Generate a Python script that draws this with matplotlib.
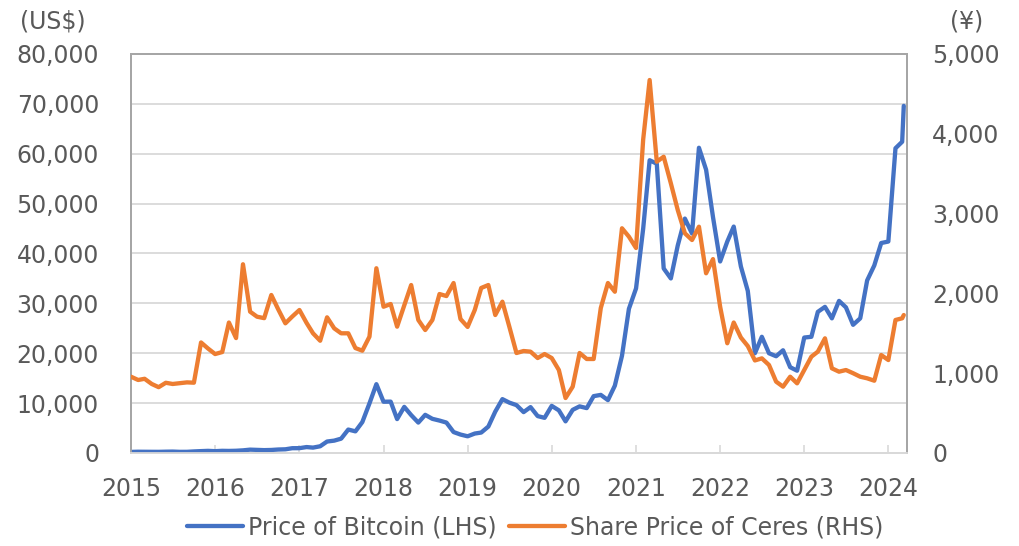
import numpy as np
import pandas as pd
import matplotlib
matplotlib.use("Agg")
import matplotlib.pyplot as plt
import matplotlib.dates as mdates
from matplotlib.ticker import FuncFormatter, MultipleLocator

# month-start dates Jan 2015 .. Mar 2024, plus one extra early-March 2024 point
dates = list(pd.date_range("2015-01-01", "2024-03-01", freq="MS")) + [pd.Timestamp("2024-03-08")]

# Price of Bitcoin (US$, left axis)
btc = [
    # 2015
    218, 254, 244, 236, 230, 263, 284, 230, 236, 314, 377, 430,
    # 2016
    368, 437, 416, 448, 531, 673, 624, 575, 609, 700, 742, 963,
    # 2017
    970, 1190, 1080, 1350, 2300, 2480, 2875, 4700, 4340, 6200, 9950, 13800,
    # 2018
    10280, 10300, 6800, 9250, 7600, 6100, 7650, 6850, 6500, 6100, 4200, 3700,
    # 2019
    3350, 3900, 4100, 5300, 8300, 10800, 10100, 9600, 8200, 9200, 7400, 7050,
    # 2020
    9450, 8550, 6350, 8650, 9350, 9000, 11400, 11650, 10600, 13500, 19500, 28900,
    # 2021
    33000, 45000, 58700, 58000, 37000, 35000, 41600, 47000, 44000, 61200, 56800, 47300,
    # 2022
    38400, 42400, 45400, 37400, 32500, 20000, 23300, 20000, 19400, 20600, 17200, 16500,
    # 2023
    23150, 23300, 28300, 29300, 27000, 30500, 29200, 25700, 27000, 34600, 37600, 42100,
    # 2024
    42400, 61100, 62400, 69600,
]

# Share Price of Ceres (yen, right axis)
ceres = [
    # 2015
    956, 915, 930, 865, 825, 880, 865, 875, 885, 881, 1385, 1310,
    # 2016
    1240, 1265, 1635, 1440, 2365, 1771, 1708, 1690, 1980, 1800, 1625, 1710,
    # 2017
    1792, 1630, 1500, 1407, 1700, 1562, 1500, 1500, 1315, 1282, 1458, 2315,
    # 2018
    1833, 1867, 1583, 1850, 2105, 1667, 1541, 1667, 1992, 1967, 2130, 1679,
    # 2019
    1580, 1792, 2068, 2105, 1729, 1896, 1583, 1253, 1278, 1270, 1190, 1240,
    # 2020
    1190, 1040, 689, 831, 1253, 1178, 1178, 1817, 2130, 2021, 2816, 2711,
    # 2021
    2569, 3930, 4674, 3650, 3713, 3380, 3045, 2753, 2669, 2836, 2252, 2430,
    # 2022
    1833, 1375, 1635, 1447, 1340, 1160, 1186, 1103, 894, 831, 956, 873,
    # 2023
    1040, 1207, 1270, 1437, 1061, 1019, 1040, 1000, 956, 936, 906, 1228,
    # 2024
    1165, 1667, 1688, 1729,
]

blue = "#4472C4"
orange = "#ED7D31"
text_color = "#595959"
grid_color = "#D9D9D9"
frame_color = "#A6A6A6"
fs = 17

plt.rcParams["font.family"] = ["DejaVu Sans"]

fig = plt.figure(figsize=(10.19, 5.46), dpi=100)
ax = fig.add_axes([131 / 1019, 1 - 453 / 546, (907 - 131) / 1019, (453 - 54) / 546])
ax2 = ax.twinx()

l1, = ax.plot(dates, btc, color=blue, lw=3.1, solid_joinstyle="round",
              solid_capstyle="round", label="Price of Bitcoin (LHS)", zorder=3)
l2, = ax2.plot(dates, ceres, color=orange, lw=3.1, solid_joinstyle="round",
               solid_capstyle="round", label="Share Price of Ceres (RHS)", zorder=3)

ax.set_ylim(0, 80000)
ax2.set_ylim(0, 5000)
ax.set_xlim(pd.Timestamp("2015-01-01"), pd.Timestamp("2024-03-22"))

ax.yaxis.set_major_locator(MultipleLocator(10000))
ax2.yaxis.set_major_locator(MultipleLocator(1000))
comma = FuncFormatter(lambda v, p: f"{int(v):,}")
ax.yaxis.set_major_formatter(comma)
ax2.yaxis.set_major_formatter(comma)

ax.xaxis.set_major_locator(mdates.YearLocator())
ax.xaxis.set_major_formatter(mdates.DateFormatter("%Y"))

ax.grid(axis="y", color=grid_color, lw=1.3)
ax.set_axisbelow(True)

ax.tick_params(axis="y", length=0, pad=23, labelsize=fs, labelcolor=text_color)
ax2.tick_params(axis="y", length=0, pad=18, labelsize=fs, labelcolor=text_color)
ax.tick_params(axis="x", direction="in", length=6, width=1.2, color=grid_color,
               pad=17, labelsize=fs, labelcolor=text_color)

for a in (ax, ax2):
    for side in ("left", "top", "right"):
        a.spines[side].set_color(frame_color)
        a.spines[side].set_linewidth(1.3)
    a.spines["bottom"].set_color(grid_color)
    a.spines["bottom"].set_linewidth(1.3)

fig.text(53 / 1019, 1 - 22 / 546, "(US$)", ha="center", va="center",
         fontsize=fs, color=text_color)
fig.text(967 / 1019, 1 - 22 / 546, "(¥)", ha="center", va="center",
         fontsize=fs, color=text_color)

fig.legend(handles=[l1, l2], loc="center", bbox_to_anchor=(535 / 1019, 1 - 527 / 546),
           ncol=2, frameon=False, fontsize=fs, labelcolor=text_color,
           handlelength=2.4, handletextpad=0.2, columnspacing=0.5,
           borderaxespad=0, borderpad=0)

fig.savefig("out.png", dpi=100)
